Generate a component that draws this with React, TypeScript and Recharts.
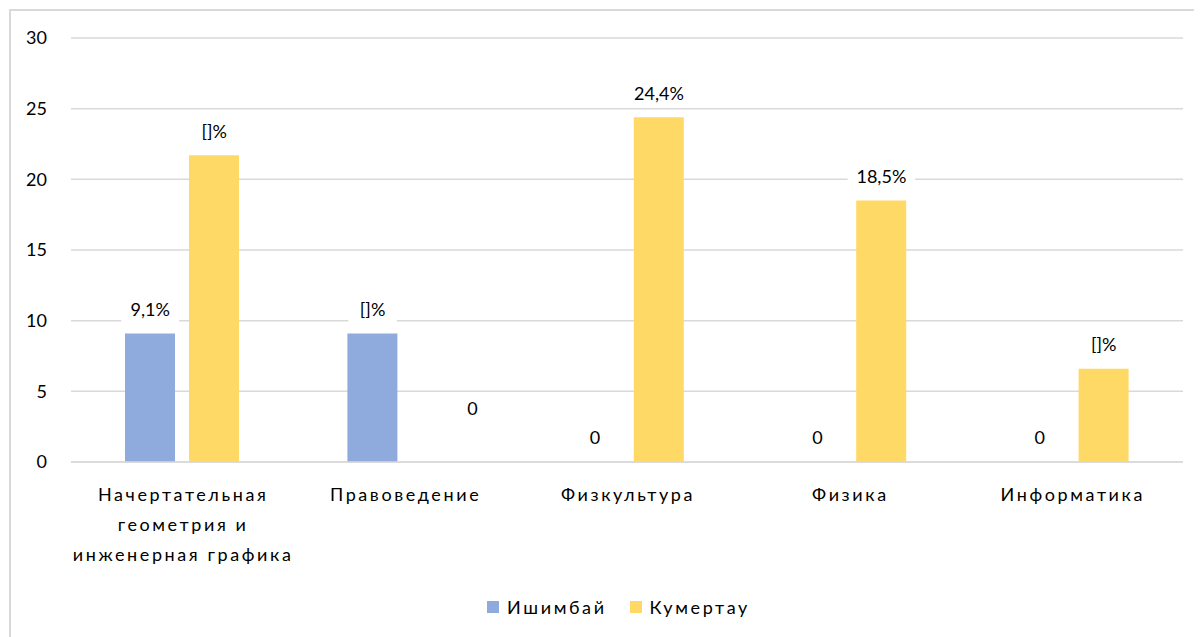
import React from "react";
import { BarChart, Bar, XAxis, YAxis, CartesianGrid, Legend, ReferenceDot } from "recharts";

const categories = [
  "Начертательная геометрия и инженерная графика",
  "Правоведение",
  "Физкультура",
  "Физика",
  "Информатика",
];
const ishimbay = [9.1, 9.1, 0, 0, 0];
const kumertau = [21.7, 0, 24.4, 18.5, 6.6];
const ishimbayLabels = ["9,1%", "[]%", "0", "0", "0"];
const kumertauLabels = ["[]%", "0", "24,4%", "18,5%", "[]%"];
const yTicks = [0, 5, 10, 15, 20, 25, 30];
const seriesNames = ["Ишимбай", "Кумертау"];

const COLORS = ["#8FAADC", "#FFD966"];
const FONT = "Lato, 'Open Sans', sans-serif";
const BAR_SIZE = 50;
const BAR_GAP = 14;
const SERIES_SHIFT = (BAR_SIZE + BAR_GAP) / 2;

// manual label nudges (style only)
const labelNudge: Record<string, { dx: number; dy: number }> = {
  "k-1": { dx: 36, dy: -29 },
};

const data = categories.map((c, i) => ({
  name: c,
  ish: ishimbay[i],
  kum: kumertau[i],
}));

function wrap(s: string, max: number): string[] {
  const words = s.split(" ");
  const lines: string[] = [];
  let cur = "";
  for (const w of words) {
    const t = cur ? cur + " " + w : w;
    if (t.length > max && cur) {
      lines.push(cur);
      cur = w;
    } else cur = t;
  }
  if (cur) lines.push(cur);
  return lines;
}

const XTick = (props: any) => {
  const { x, y, payload } = props;
  const lines = wrap(String(payload.value), 18);
  return (
    <text x={x} y={y} textAnchor="middle" fontSize={18} letterSpacing={2.6} fill="#000" fontFamily={FONT}>
      {lines.map((l, i) => (
        <tspan key={i} x={x + 1} y={y + 33 + 30 * i} dy="0.355em">
          {l}
        </tspan>
      ))}
    </text>
  );
};

const makeLabelShape = (key: string, index: number, txt: string, side: number) => (props: any) => {
  const { cx, cy } = props;
  const n = labelNudge[`${key}-${index}`] || { dx: 0, dy: 0 };
  const x = cx + side * SERIES_SHIFT + n.dx;
  const y = cy - 24 + n.dy;
  const w = txt.length * 9.5 + 20;
  return (
    <g>
      <rect x={x - w / 2} y={y - 14} width={w} height={28} fill="#fff" />
      <text x={x} y={y} dy="0.355em" textAnchor="middle" fontSize={18} fill="#000" fontFamily={FONT}>
        {txt}
      </text>
    </g>
  );
};

const LegendContent = () => (
  <div
    style={{
      display: "flex",
      justifyContent: "center",
      alignItems: "center",
      height: 30,
      paddingLeft: 46,
      fontFamily: FONT,
      fontSize: 18,
      letterSpacing: 2.6,
      color: "#000",
    }}
  >
    {seriesNames.map((s, i) => (
      <div key={s} style={{ display: "flex", alignItems: "center", marginLeft: i ? 23 : 0 }}>
        <div style={{ width: 12, height: 12, background: COLORS[i], marginRight: 8 }} />
        <span>{s}</span>
      </div>
    ))}
  </div>
);

export default function App() {
  return (
    <div style={{ position: "relative", width: 1186, height: 629 }}>
      <div
        style={{
          position: "absolute",
          left: 1,
          top: 1,
          width: 1220,
          height: 660,
          border: "2px solid #D9D9D9",
          boxSizing: "border-box",
        }}
      />
      <div style={{ position: "absolute", left: 0, top: 0 }}>
        <BarChart
          width={1186}
          height={629}
          data={data}
          margin={{ top: 30, right: 11, left: 0, bottom: 15 }}
          barSize={BAR_SIZE}
          barGap={BAR_GAP}
        >
          <CartesianGrid vertical={false} stroke="#D9D9D9" strokeWidth={1.5} />
          <YAxis
            width={63}
            domain={[0, 30]}
            ticks={yTicks}
            axisLine={false}
            tickLine={false}
            tickSize={0}
            tickMargin={24}
            tick={{ fontSize: 18, fill: "#000", fontFamily: FONT }}
          />
          <XAxis
            dataKey="name"
            height={130}
            axisLine={{ stroke: "#D9D9D9", strokeWidth: 1.5 }}
            tickLine={false}
            tickSize={0}
            tickMargin={0}
            interval={0}
            tick={<XTick />}
          />
          <Legend verticalAlign="bottom" height={30} content={<LegendContent />} />
          <Bar dataKey="ish" name={seriesNames[0]} fill={COLORS[0]} isAnimationActive={false} />
          <Bar dataKey="kum" name={seriesNames[1]} fill={COLORS[1]} isAnimationActive={false} />
          {categories.map((c, i) => (
            <ReferenceDot
              key={`i-${i}`}
              x={c}
              y={ishimbay[i]}
              ifOverflow="visible"
              shape={makeLabelShape("i", i, ishimbayLabels[i], -1)}
            />
          ))}
          {categories.map((c, i) => (
            <ReferenceDot
              key={`k-${i}`}
              x={c}
              y={kumertau[i]}
              ifOverflow="visible"
              shape={makeLabelShape("k", i, kumertauLabels[i], 1)}
            />
          ))}
        </BarChart>
      </div>
    </div>
  );
}
